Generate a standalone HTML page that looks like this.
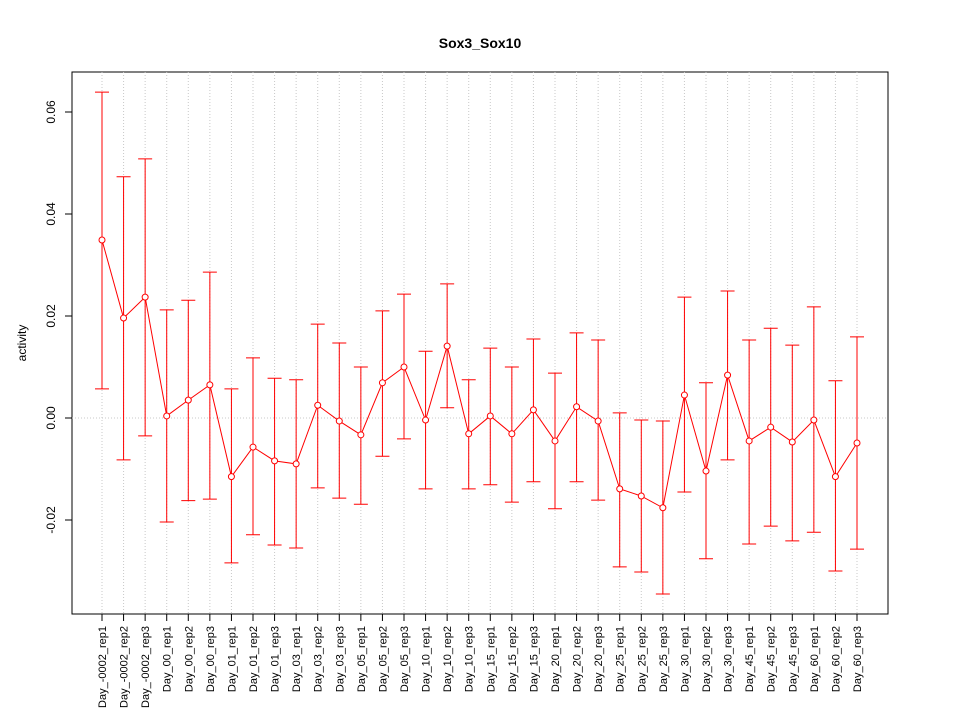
<!DOCTYPE html>
<html><head><meta charset="utf-8"><style>
html,body{margin:0;padding:0;background:#fff;}
svg{display:block;font-family:"Liberation Sans",sans-serif;}
</style></head><body>
<svg id="chart" width="960" height="720" viewBox="0 0 960 720">
<text x="480" y="48" text-anchor="middle" font-size="14" font-weight="bold">Sox3_Sox10</text>
<rect x="72" y="72" width="816" height="542" fill="none" stroke="#000" stroke-width="1"/>
<text transform="translate(26,343) rotate(-90)" text-anchor="middle" font-size="12">activity</text>
<g id="grid"></g><g id="axes"></g><g id="series"></g>
</svg>
<script>
const categories=["Day_-0002_rep1","Day_-0002_rep2","Day_-0002_rep3","Day_00_rep1","Day_00_rep2","Day_00_rep3","Day_01_rep1","Day_01_rep2","Day_01_rep3","Day_03_rep1","Day_03_rep2","Day_03_rep3","Day_05_rep1","Day_05_rep2","Day_05_rep3","Day_10_rep1","Day_10_rep2","Day_10_rep3","Day_15_rep1","Day_15_rep2","Day_15_rep3","Day_20_rep1","Day_20_rep2","Day_20_rep3","Day_25_rep1","Day_25_rep2","Day_25_rep3","Day_30_rep1","Day_30_rep2","Day_30_rep3","Day_45_rep1","Day_45_rep2","Day_45_rep3","Day_60_rep1","Day_60_rep2","Day_60_rep3"];
const means=[0.0349,0.0196,0.0237,0.0004,0.0035,0.0065,-0.0115,-0.0057,-0.0084,-0.0090,0.0025,-0.0006,-0.0033,0.0069,0.0100,-0.0004,0.0141,-0.0031,0.0004,-0.0031,0.0016,-0.0045,0.0022,-0.0006,-0.0139,-0.0153,-0.0176,0.0045,-0.0104,0.0084,-0.0045,-0.0018,-0.0047,-0.0004,-0.0115,-0.0049];
const uppers=[0.0639,0.0473,0.0508,0.0212,0.0231,0.0286,0.0057,0.0118,0.0078,0.0075,0.0184,0.0147,0.0100,0.0210,0.0243,0.0131,0.0263,0.0075,0.0137,0.0100,0.0155,0.0088,0.0167,0.0153,0.0010,-0.0004,-0.0006,0.0237,0.0069,0.0249,0.0153,0.0176,0.0143,0.0218,0.0073,0.0159];
const lowers=[0.0057,-0.0082,-0.0035,-0.0204,-0.0162,-0.0159,-0.0284,-0.0229,-0.0249,-0.0255,-0.0137,-0.0157,-0.0169,-0.0075,-0.0041,-0.0139,0.0020,-0.0139,-0.0131,-0.0165,-0.0125,-0.0178,-0.0125,-0.0161,-0.0292,-0.0302,-0.0345,-0.0145,-0.0276,-0.0082,-0.0247,-0.0212,-0.0241,-0.0224,-0.0300,-0.0257];
const yTicks=[-0.02,0,0.02,0.04,0.06];
const yTickLabels=["-0.02","0.00","0.02","0.04","0.06"];
const NS="http://www.w3.org/2000/svg";
function x(i){return 102+i*(857-102)/(categories.length-1);}
function y(v){return 418-v*5100;}
function mk(tag,attrs,parent){const e=document.createElementNS(NS,tag);for(const k in attrs)e.setAttribute(k,attrs[k]);parent.appendChild(e);return e;}
const grid=document.getElementById('grid'),axes=document.getElementById('axes'),series=document.getElementById('series');
categories.forEach((c,i)=>{
 const g=mk('line',{x1:x(i),x2:x(i),y1:72,y2:614,stroke:'#c8c8c8','stroke-dasharray':'1,2'},grid);
 
 
 const t=mk('line',{x1:x(i),x2:x(i),y1:614,y2:621,stroke:'#000'},axes);
 
 
 const l=mk('text',{transform:`translate(${x(i)+4},626) rotate(-90)`,'text-anchor':'end','font-size':'11'},axes);
 l.textContent=c;
 
 
});
const h=mk('line',{x1:72,x2:888,y1:y(0),y2:y(0),stroke:'#c8c8c8','stroke-dasharray':'1,2'},grid);


yTicks.forEach((v,i)=>{
 const t=mk('line',{x1:65,x2:72,y1:y(v),y2:y(v),stroke:'#000'},axes);
 
 
 const l=mk('text',{transform:`translate(55,${y(v)}) rotate(-90)`,'text-anchor':'middle','font-size':'12'},axes);
 l.textContent=yTickLabels[i];
 
 
});
const ln=mk('polyline',{points:means.map((v,i)=>x(i)+','+y(v)).join(' '),fill:'none',stroke:'#ff0000','stroke-width':1},series);


means.forEach((v,i)=>{
 const e=mk('path',{d:`M${x(i)},${y(uppers[i])}V${y(lowers[i])}M${x(i)-7},${y(uppers[i])}H${x(i)+7}M${x(i)-7},${y(lowers[i])}H${x(i)+7}`,stroke:'#ff0000',fill:'none','stroke-width':1},series);
 
 
 const p=mk('circle',{cx:x(i),cy:y(v),r:3,fill:'#fff',stroke:'#ff0000','stroke-width':1},series);
 
 
});
</script>
</body></html>
